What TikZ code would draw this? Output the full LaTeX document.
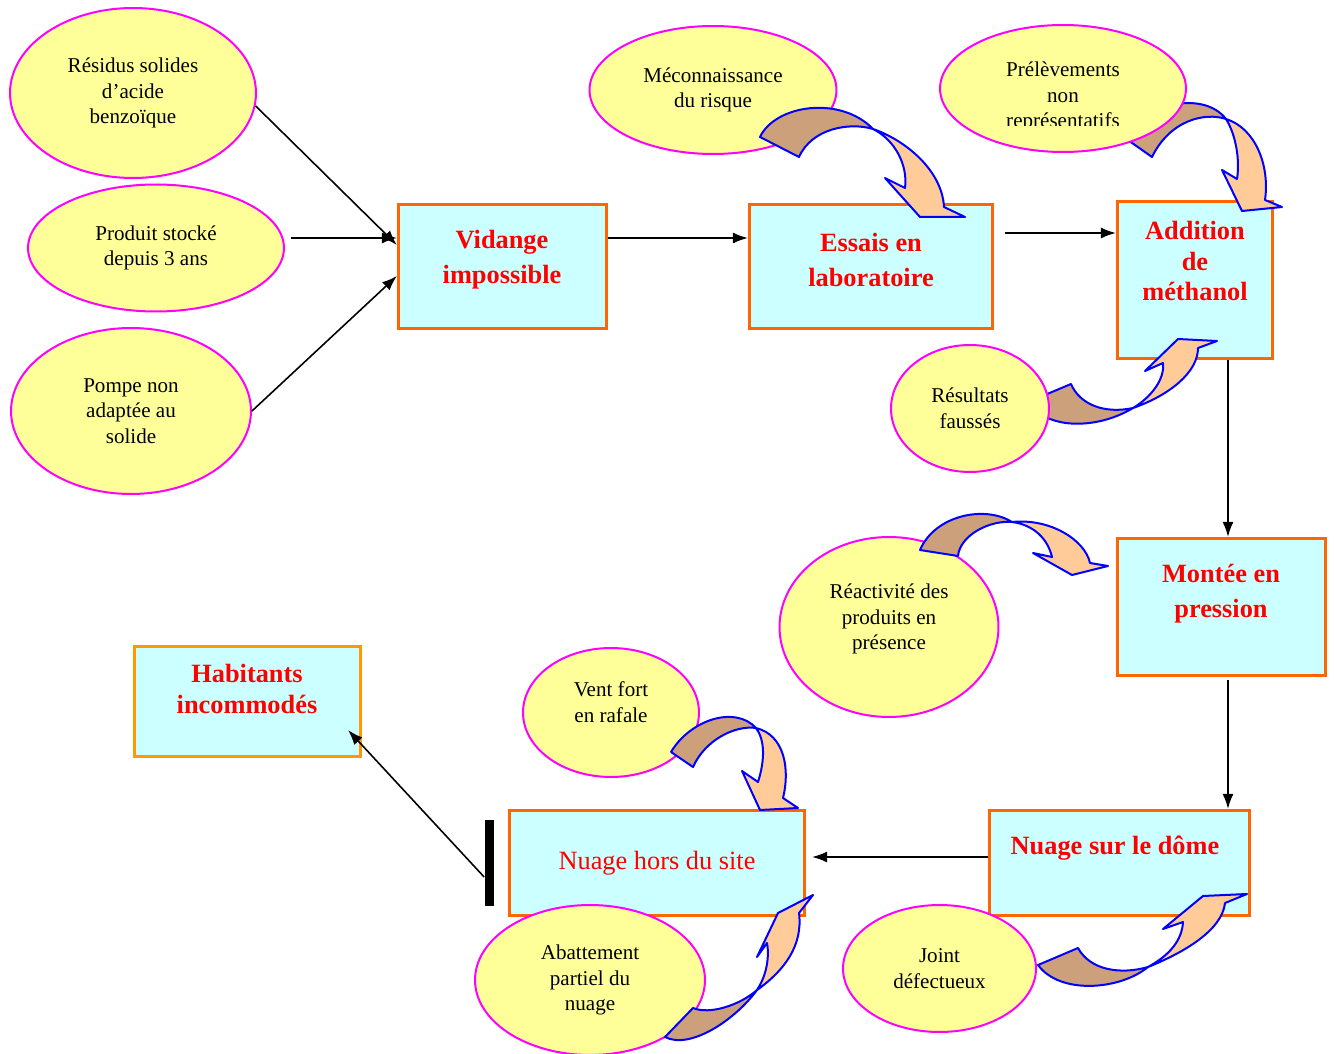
\documentclass[tikz,border=0pt]{standalone}
\usepackage{fontspec}
\setmainfont{Liberation Serif}
\usetikzlibrary{shapes.geometric, arrows.meta}

\definecolor{jaune}{RGB}{255,255,153}
\definecolor{rose}{RGB}{255,0,255}
\definecolor{cyanpale}{RGB}{204,255,255}
\definecolor{orangebord}{RGB}{255,102,0}
\definecolor{orangeclair}{RGB}{255,153,0}
\definecolor{peche}{RGB}{255,204,153}
\definecolor{brun}{RGB}{204,160,122}
\definecolor{bleu}{RGB}{0,0,255}

\begin{document}
\begin{tikzpicture}[
                x=0.02cm, y=-0.02cm,
                bulle/.style={shape=ellipse, draw=rose, fill=jaune, line width=0.04cm, inner sep=0pt, align=center, font=\fontsize{12}{14.5}\selectfont},
                texte/.style={align=center, font=\fontsize{12}{14.5}\selectfont},
                boite/.style={shape=rectangle, draw=orangebord, fill=cyanpale, line width=0.065cm, inner sep=0pt},
                titre/.style={text=red, align=center, font=\fontsize{15}{20}\selectfont\bfseries},
                fleche/.style={line width=0.9pt, -{Latex[length=0.3cm, width=0.22cm]}},
                dos/.style={fill=brun, draw=bleu, line width=0.04cm, line join=round},
                face/.style={fill=peche, draw=bleu, line width=0.04cm, line join=round},
                barriere/.style={fill=black, minimum width=0.18cm, minimum height=1.72cm, inner sep=0pt},
            ]
            \useasboundingbox (0, 0) rectangle (1335, 1054);
            % boites
            \node[boite, minimum width=4.16cm, minimum height=2.48cm] (vidange) at (502.5, 266.5) {};
            \node[boite, minimum width=4.86cm, minimum height=2.48cm] (essais) at (871, 266.5) {};
            \node[boite, minimum width=3.1cm, minimum height=3.14cm] (addition) at (1195, 280) {};
            \node[boite, minimum width=4.16cm, minimum height=2.74cm] (montee) at (1221.5, 607) {};
            \node[boite, minimum width=5.2cm, minimum height=2.1cm] (nuagedome) at (1119.5, 863) {};
            \node[boite, minimum width=5.9cm, minimum height=2.1cm] (nuagesite) at (657, 863) {};
            \node[boite, draw=orangeclair, minimum width=4.52cm, minimum height=2.2cm] (habitants) at (247.5, 701.5) {};
            \node[titre] at (502, 260) {Vidange\\impossible};
            \node[titre] at (871, 260) {Essais en\\laboratoire};
            \node[titre, font=\fontsize{15}{17.5}\selectfont\bfseries] at (1195, 261) {Addition\\de\\méthanol};
            \node[titre] at (1221, 594) {Montée en\\pression};
            \node[titre] at (1115, 848) {Nuage sur le dôme};
            \node[titre, font=\fontsize{15}{18}\selectfont] at (657, 863) {Nuage hors du site};
            \node[titre, font=\fontsize{15}{17.5}\selectfont\bfseries] at (247, 689) {Habitants\\incommodés};
            % fleches courbes sous les bulles
            \draw[dos] (1125, 138) .. controls (1150, 100) and (1205, 92) .. (1226, 119) .. controls (1205, 112) and (1170, 120) .. (1152, 157) -- cycle;
            \draw[face] (1226, 119) .. controls (1255, 128) and (1270, 165) .. (1265, 200) -- (1282, 207) -- (1242, 211) -- (1222, 170) -- (1237, 179) .. controls (1240, 160) and (1236, 135) .. (1226, 119) -- cycle;
            \draw[dos] (1071, 384) -- (1040, 397) -- (1040, 414) .. controls (1065, 430) and (1105, 425) .. (1133, 408) .. controls (1105, 414) and (1080, 405) .. (1071, 384) -- cycle;
            \draw[face] (1133, 408) .. controls (1170, 395) and (1198, 372) .. (1198, 348) -- (1217, 341) -- (1178, 339) -- (1145, 371) -- (1163, 363) .. controls (1165, 380) and (1150, 398) .. (1133, 408) -- cycle;
            % bulles
            \node[bulle, minimum width=4.92cm, minimum height=3.4cm] (residus) at (133, 93) {Résidus solides\\d’acide\\benzoïque};
            \node[bulle, minimum width=5.12cm, minimum height=2.54cm] (produit) at (156, 248) {Produit stocké\\depuis 3 ans};
            \node[bulle, minimum width=4.8cm, minimum height=3.32cm] (pompe) at (131, 411) {Pompe non\\adaptée au\\solide};
            \node[bulle, minimum width=4.94cm, minimum height=2.56cm] (risque) at (713, 90) {Méconnaissance\\du risque};
            \node[bulle, minimum width=4.92cm, minimum height=2.54cm] (prelevements) at (1063, 88.5) {};
            \begin{scope}
                \clip (990, 40) rectangle (1140, 126);
                \node[texte] at (1063, 97) {Prélèvements\\non\\représentatifs};
            \end{scope}
            \node[bulle, minimum width=3.16cm, minimum height=2.54cm] (resultats) at (970, 408.5) {Résultats\\faussés};
            \node[bulle, minimum width=4.38cm, minimum height=3.6cm] (reactivite) at (889, 627) {};
            \node[texte] at (889, 619) {Réactivité des\\produits en\\présence};
            \node[bulle, minimum width=3.52cm, minimum height=2.58cm] (vent) at (611, 712.5) {};
            \node[texte] at (611, 702) {Vent fort\\en rafale};
            \node[bulle, minimum width=4.6cm, minimum height=3cm] (abattement) at (590, 980) {Abattement\\partiel du\\nuage};
            \node[bulle, minimum width=3.86cm, minimum height=2.54cm] (joint) at (939.5, 968.5) {Joint\\défectueux};
            % fleches courbes
            \draw[dos] (760, 137) .. controls (775, 105) and (840, 95) .. (873, 129) .. controls (850, 122) and (812, 128) .. (799, 157) -- cycle;
            \draw[face] (873, 129) .. controls (905, 140) and (942, 170) .. (944, 207) -- (965, 217) -- (920, 217) -- (885, 178) -- (905, 188) .. controls (908, 165) and (895, 140) .. (873, 129) -- cycle;
            \draw[dos] (920, 550) .. controls (935, 515) and (985, 505) .. (1012, 522) .. controls (990, 520) and (960, 535) .. (958, 556) -- cycle;
            \draw[face] (1012, 522) .. controls (1050, 518) and (1085, 540) .. (1090, 563) -- (1108, 566) -- (1072, 575) -- (1033, 553) -- (1052, 557) .. controls (1048, 540) and (1035, 525) .. (1012, 522) -- cycle;
            \draw[dos] (671, 752) .. controls (690, 720) and (735, 705) .. (756, 728) .. controls (735, 725) and (705, 740) .. (693, 767) -- cycle;
            \draw[face] (756, 728) .. controls (785, 735) and (790, 770) .. (783, 798) -- (798, 808) -- (760, 810) -- (742, 771) -- (758, 782) .. controls (765, 760) and (765, 740) .. (756, 728) -- cycle;
            \draw[dos] (665, 1037) .. controls (690, 1050) and (735, 1020) .. (757, 990) .. controls (740, 1005) and (710, 1015) .. (693, 1008) -- cycle;
            \draw[face] (757, 990) .. controls (785, 970) and (803, 945) .. (799, 913) -- (813, 895) -- (778, 913) -- (757, 957) -- (767, 943) .. controls (770, 960) and (765, 978) .. (757, 990) -- cycle;
            \draw[dos] (1038, 965) .. controls (1060, 995) and (1120, 990) .. (1148, 967) .. controls (1120, 975) and (1090, 970) .. (1078, 948) -- cycle;
            \draw[face] (1148, 967) .. controls (1185, 952) and (1222, 930) .. (1225, 903) -- (1247, 894) -- (1203, 896) -- (1163, 929) -- (1183, 922) .. controls (1182, 940) and (1170, 955) .. (1148, 967) -- cycle;
            % barriere
            \node[barriere] (barriere) at (489, 863) {};
            % liaisons
            \draw[fleche] (residus.-6) -- ([shift={(0, -21.5)}]vidange.west);
            \draw[fleche] ([shift={(6, -10)}]produit.east) -- ([shift={(0, -28.5)}]vidange.west);
            \draw[fleche] (pompe.east) -- ([shift={(0, 9.5)}]vidange.west);
            \draw[fleche] ([shift={(0, -28.5)}]vidange.east) -- ([shift={(0, -28.5)}]essais.west);
            \draw[fleche] ([shift={(10.5, -33.5)}]essais.east) -- ([shift={(0, -47)}]addition.west);
            \draw[fleche] ([shift={(33, 0)}]addition.south) -- ([shift={(6.5, 0)}]montee.north);
            \draw[fleche] ([shift={(6.5, 3)}]montee.south) -- ([shift={(108.5, 0)}]nuagedome.north);
            \draw[fleche] ([shift={(0, -6)}]nuagedome.west) -- ([shift={(6, -6)}]nuagesite.east);
            \draw[fleche] ([shift={(0, 14)}]barriere.west) -- ([shift={(-14, -28)}]habitants.south east);
        \end{tikzpicture}
\end{document}
